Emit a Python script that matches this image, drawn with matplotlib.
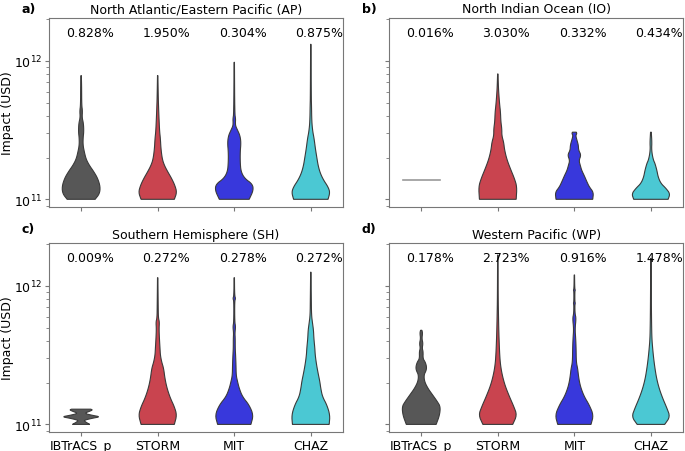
import numpy as np
import matplotlib
matplotlib.use("Agg")
import matplotlib.pyplot as plt
import matplotlib.transforms as mtransforms

# models, regions and the share printed above each violin
models = ["IBTrACS_p", "STORM", "MIT", "CHAZ"]
colors = ["#575757", "#c9444f", "#3838dc", "#4bc8d3"]
titles = ["North Atlantic/Eastern Pacific (AP)", "North Indian Ocean (IO)",
          "Southern Hemisphere (SH)", "Western Pacific (WP)"]
panel_tags = ["a)", "b)", "c)", "d)"]

pct_ap = [0.828, 1.950, 0.304, 0.875]
pct_io = [0.016, 3.030, 0.332, 0.434]
pct_sh = [0.009, 0.272, 0.278, 0.272]
pct_wp = [0.178, 2.723, 0.916, 1.478]

# violin outlines: (log10 impact in USD, relative width)
ap_ibtracs = [(11.0, 0.73), (11.04, 0.96), (11.09, 1.0), (11.15, 0.87), (11.20, 0.66),
              (11.245, 0.43), (11.29, 0.26), (11.34, 0.17), (11.39, 0.10), (11.44, 0.10),
              (11.49, 0.14), (11.55, 0.12), (11.59, 0.05), (11.64, 0.07), (11.68, 0.03),
              (11.82, 0.025), (11.894, 0.01)]
ap_storm = [(11.0, 0.87), (11.05, 1.0), (11.10, 0.9), (11.15, 0.73), (11.20, 0.52),
            (11.245, 0.35), (11.29, 0.24), (11.365, 0.17), (11.44, 0.14), (11.49, 0.10),
            (11.58, 0.07), (11.65, 0.05), (11.73, 0.03), (11.894, 0.01)]
ap_mit = [(11.0, 0.78), (11.065, 1.0), (11.11, 0.95), (11.15, 0.55), (11.20, 0.35),
          (11.27, 0.31), (11.34, 0.31), (11.41, 0.35), (11.46, 0.30), (11.50, 0.17),
          (11.53, 0.07), (11.555, 0.06), (11.58, 0.07), (11.62, 0.025), (11.99, 0.01)]
ap_chaz = [(11.0, 0.9), (11.05, 1.0), (11.09, 0.9), (11.14, 0.66), (11.19, 0.49),
           (11.245, 0.38), (11.305, 0.31), (11.365, 0.24), (11.44, 0.17), (11.49, 0.10),
           (11.56, 0.05), (11.68, 0.035), (11.73, 0.025), (12.12, 0.01)]

io_ibtracs = [(11.137, 0.96)]
io_storm = [(11.0, 0.96), (11.09, 1.0), (11.15, 0.87), (11.22, 0.66), (11.29, 0.47),
            (11.36, 0.35), (11.41, 0.31), (11.46, 0.21), (11.51, 0.21), (11.56, 0.16),
            (11.63, 0.14), (11.68, 0.10), (11.73, 0.07), (11.80, 0.035), (11.906, 0.01)]
io_mit = [(11.0, 0.96), (11.05, 1.0), (11.09, 0.78), (11.125, 0.66), (11.17, 0.52),
          (11.21, 0.38), (11.245, 0.31), (11.28, 0.24), (11.32, 0.35), (11.355, 0.22),
          (11.39, 0.21), (11.425, 0.14), (11.46, 0.07), (11.475, 0.13), (11.485, 0.10)]
io_chaz = [(11.0, 0.9), (11.04, 1.0), (11.08, 0.78), (11.115, 0.52), (11.16, 0.38),
           (11.21, 0.31), (11.26, 0.21), (11.28, 0.14), (11.32, 0.07), (11.365, 0.035),
           (11.41, 0.05), (11.485, 0.02)]

sh_ibtracs = [(11.0, 0.45), (11.02, 0.2), (11.03, 0.15), (11.045, 0.6), (11.055, 1.0),
              (11.065, 0.6), (11.08, 0.15), (11.095, 0.45), (11.105, 0.6), (11.11, 0.5)]
sh_storm = [(11.0, 0.87), (11.067, 1.0), (11.128, 0.87), (11.19, 0.66), (11.26, 0.49),
            (11.33, 0.38), (11.405, 0.31), (11.45, 0.21), (11.50, 0.14), (11.55, 0.12),
            (11.62, 0.09), (11.69, 0.07), (11.74, 0.09), (11.77, 0.035), (11.86, 0.025),
            (12.06, 0.01)]
sh_mit = [(11.0, 0.87), (11.067, 1.0), (11.14, 0.78), (11.20, 0.43), (11.26, 0.26),
          (11.31, 0.17), (11.355, 0.10), (11.43, 0.09), (11.50, 0.07), (11.55, 0.05),
          (11.62, 0.05), (11.66, 0.035), (11.706, 0.07), (11.74, 0.025), (11.89, 0.02),
          (11.91, 0.07), (11.93, 0.02), (12.06, 0.01)]
sh_chaz = [(11.0, 0.96), (11.067, 1.0), (11.14, 0.84), (11.20, 0.61), (11.26, 0.52),
           (11.31, 0.47), (11.37, 0.38), (11.43, 0.30), (11.50, 0.23), (11.55, 0.21),
           (11.62, 0.16), (11.68, 0.14), (11.73, 0.09), (11.79, 0.035), (11.91, 0.025),
           (12.10, 0.01)]

wp_ibtracs = [(11.0, 0.78), (11.067, 0.96), (11.128, 1.0), (11.165, 0.84), (11.21, 0.61),
              (11.26, 0.35), (11.31, 0.17), (11.357, 0.14), (11.39, 0.26), (11.417, 0.28),
              (11.45, 0.21), (11.475, 0.09), (11.525, 0.10), (11.55, 0.05), (11.585, 0.09),
              (11.62, 0.035), (11.66, 0.07), (11.68, 0.035)]
wp_storm = [(11.0, 0.78), (11.067, 1.0), (11.128, 0.84), (11.20, 0.61), (11.28, 0.38),
            (11.357, 0.23), (11.43, 0.14), (11.50, 0.10), (11.60, 0.07), (11.69, 0.05),
            (11.79, 0.035), (11.91, 0.02), (12.224, 0.01)]
wp_mit = [(11.0, 0.87), (11.067, 1.0), (11.14, 0.78), (11.20, 0.52), (11.26, 0.35),
          (11.31, 0.26), (11.357, 0.21), (11.405, 0.17), (11.45, 0.10), (11.55, 0.09),
          (11.62, 0.07), (11.69, 0.035), (11.766, 0.09), (11.80, 0.035), (11.86, 0.025),
          (11.875, 0.05), (11.89, 0.025), (11.96, 0.025), (11.97, 0.05), (11.98, 0.02),
          (12.08, 0.01)]
wp_chaz = [(11.0, 0.72), (11.055, 1.0), (11.116, 0.84), (11.19, 0.61), (11.26, 0.43),
           (11.33, 0.30), (11.405, 0.21), (11.48, 0.14), (11.55, 0.09), (11.62, 0.05),
           (11.72, 0.035), (11.85, 0.025), (12.2, 0.01)]

panels = [
    (pct_ap, [ap_ibtracs, ap_storm, ap_mit, ap_chaz]),
    (pct_io, [io_ibtracs, io_storm, io_mit, io_chaz]),
    (pct_sh, [sh_ibtracs, sh_storm, sh_mit, sh_chaz]),
    (pct_wp, [wp_ibtracs, wp_storm, wp_mit, wp_chaz]),
]


def soften(lev, wid, rounds=2):
    # corner cutting so the outline looks less jagged; end points are kept
    for _ in range(rounds):
        nl, nw = [lev[0]], [wid[0]]
        for j in range(len(lev) - 1):
            nl += [0.75 * lev[j] + 0.25 * lev[j + 1], 0.25 * lev[j] + 0.75 * lev[j + 1]]
            nw += [0.75 * wid[j] + 0.25 * wid[j + 1], 0.25 * wid[j] + 0.75 * wid[j + 1]]
        nl.append(lev[-1])
        nw.append(wid[-1])
        lev, wid = np.array(nl), np.array(nw)
    return lev, wid


half_width = 0.25
fs = 9
fig = plt.figure(figsize=(6.85, 4.52), dpi=100)
boxes = [(0.0715, 0.540), (0.568, 0.540), (0.0715, 0.042), (0.568, 0.042)]
ax_w, ax_h = 0.4292, 0.418

for k, (pcts, outlines) in enumerate(panels):
    ax = fig.add_axes([boxes[k][0], boxes[k][1], ax_w, ax_h])
    ax.set_yscale("log")
    for i, outline in enumerate(outlines):
        lev = np.array([p[0] for p in outline])
        wid = np.array([p[1] for p in outline]) * half_width
        if len(lev) == 1:
            ax.plot([i - wid[0], i + wid[0]], [10 ** lev[0]] * 2, color="#9a9a9a", lw=1.2)
            continue
        lev, wid = soften(lev, wid)
        xs = np.concatenate([i + wid, (i - wid)[::-1]])
        ys = np.concatenate([10 ** lev, (10 ** lev)[::-1]])
        ax.fill(xs, ys, facecolor=colors[i], edgecolor="#3a3a3a", lw=0.8)

    trans = mtransforms.blended_transform_factory(ax.transData, ax.transAxes)
    for i, p in enumerate(pcts):
        ax.text(i - 0.2, 0.925, f"{p:.3f}%", transform=trans, ha="left", va="center",
                fontsize=fs)

    ax.set_xlim(-0.42, 3.42)
    ax.set_ylim(10 ** 10.945, 10 ** 12.31)
    ax.set_xticks(range(4))
    ax.set_title(titles[k], fontsize=fs, pad=4)
    for s in ax.spines.values():
        s.set_color("#777777")
    ax.tick_params(which="both", colors="#777777", labelcolor="black", labelsize=fs,
                   pad=2)
    ax.tick_params(which="major", length=3)
    ax.tick_params(which="minor", length=2)
    if k >= 2:
        ax.set_xticklabels(models)
    else:
        ax.set_xticklabels([])
    if k % 2 == 0:
        ax.set_ylabel("Impact (USD)", fontsize=fs)
        ax.yaxis.set_label_coords(-0.118, 0.5)
    else:
        ax.set_yticklabels([], minor=False)
        ax.set_yticklabels([], minor=True)

tag_xy = [(22, 10), (362, 10), (22, 230), (362, 230)]
for tag, (px, py) in zip(panel_tags, tag_xy):
    fig.text(px / 685, 1 - py / 452, tag, fontweight="bold", fontsize=fs, va="center")

fig.savefig("out.png", dpi=100)
